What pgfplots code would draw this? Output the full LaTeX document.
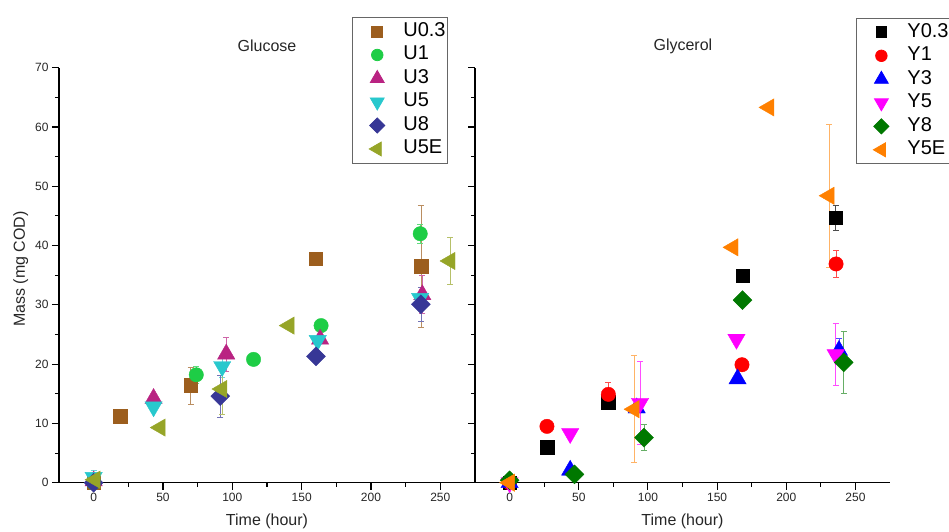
\documentclass[border=0pt]{standalone}
\usepackage{fontspec}
\setmainfont{Liberation Sans}
\usepackage{pgfplots}
\pgfplotsset{compat=1.18}

\definecolor{cBrown}{RGB}{156,94,30}
\definecolor{cGreen}{RGB}{30,205,70}
\definecolor{cWine}{RGB}{185,35,130}
\definecolor{cCyan}{RGB}{40,200,205}
\definecolor{cNavy}{RGB}{55,55,150}
\definecolor{cOlive}{RGB}{150,165,40}
\definecolor{cDkGreen}{RGB}{0,120,0}
\definecolor{cOrange}{RGB}{255,128,0}
\definecolor{cRed}{RGB}{255,0,0}
\definecolor{cBlue}{RGB}{0,0,255}
\definecolor{cMag}{RGB}{255,0,255}

\pgfplotsset{
  panel/.style={
    scale only axis, height=415pt,
    xmin=-25, xmax=275, ymin=0, ymax=70,
    xtick={0,50,...,250}, ytick={0,10,...,70},
    minor x tick num=1, minor y tick num=1,
    axis x line*=bottom, axis y line*=left,
    axis line style={-, line width=1.3pt},
    tick align=outside,
    major tick length=7pt, minor tick length=4pt,
    every tick/.style={black, line width=1.1pt},
    tick label style={font=\fontsize{12}{14}\selectfont, text=black!85},
    /pgf/number format/assume math mode=true,
    clip=false,
    title style={font=\fontsize{16}{19}\selectfont, text=black!85, anchor=center},
    label style={font=\fontsize{16}{19}\selectfont, text=black!85},
    xlabel style={at={(axis description cs:0.5,-0.092)}, anchor=center},
    legend style={draw=black!60, line width=0.8pt, fill=white,
      font=\fontsize{20}{23}\selectfont, anchor=north west,
      inner xsep=2pt, inner ysep=5pt, column sep=18.5pt, row sep=5.5pt,
      nodes={inner sep=0pt, text height=14pt, text depth=4pt}},
    legend cell align=left,
    legend image code/.code={\path[draw=none, fill=none] (0pt,0pt) (26pt,0pt);
      \draw[##1, /tikz/every mark/.append style={scale=0.8}]
        plot coordinates {(23pt,0pt)};},
  },
  ebar/.style={forget plot, only marks, mark=none, #1,
    error bars/.cd, y dir=both, y explicit,
    error bar style={#1, line width=0.7pt},
    error mark options={rotate=90, #1, mark size=3pt, line width=0.7pt}},
}

\begin{document}
\begin{tikzpicture}[x=1pt,y=1pt]
\useasboundingbox (0,0) rectangle (949,531);

% ---------------- Glucose ----------------
\begin{axis}[panel, width=416pt,
  at={(59pt,48.3pt)}, anchor=south west,
  title={Glucose}, title style={at={(axis description cs:0.5,1.038)}},
  xlabel={Time (hour)},
  ylabel={Mass (mg COD)},
  ylabel style={at={(axis description cs:-0.092,0.515)}, anchor=center, rotate=0},
  legend style={at={(axis description cs:0.704,1.122)}},
]
% error bars
\addplot[ebar=cBrown!70] coordinates {(70,16.4) +- (0,3.1) (236,36.5) +- (0,10.3)};
\addplot[ebar=cGreen!70] coordinates {(74,18.2) +- (0,1.5) (235.5,42) +- (0,1.6)};
\addplot[ebar=cWine!70] coordinates {(95.6,21.7) +- (0,2.9) (237,31.7) +- (0,3.2)};
\addplot[ebar=cCyan!70] coordinates {(0,0.9) +- (0,1.2) (92.7,19.6) +- (0,1.8)};
\addplot[ebar=cNavy!70] coordinates {(91.3,14.6) +- (0,3.5) (236,30.1) +- (0,2.8)};
\addplot[ebar=cOlive!70] coordinates {(92.5,15.8) +- (0,4.2) (257,37.4) +- (0,4.0)};
% marks
\addplot[only marks, mark=square*, mark size=6.8pt, color=cBrown]
  coordinates {(0,0) (19.2,11.2) (70,16.4) (160,37.8) (236,36.5)};
\addlegendentry{U0.3}
\addplot[only marks, mark=*, mark size=7.2pt, color=cGreen]
  coordinates {(0,0) (74,18.2) (115.3,20.8) (164,26.5) (235.5,42)};
\addlegendentry{U1}
\addplot[only marks, mark=triangle*, mark size=10pt, color=cWine]
  coordinates {(0,0.3) (43.2,14.2) (95.6,21.7) (163.3,24.2) (237,31.7)};
\addlegendentry{U3}
\addplot[only marks, mark=triangle*, mark size=10pt, mark options={rotate=180}, color=cCyan]
  coordinates {(0,0.9) (43.2,12.8) (92.7,19.6) (161.6,24.0) (235.4,31.1)};
\addlegendentry{U5}
\addplot[only marks, mark=square*, mark size=6.7pt, mark options={rotate=45}, color=cNavy]
  coordinates {(0,0) (91.3,14.6) (160.3,21.3) (236,30.1)};
\addlegendentry{U8}
\addplot[only marks, mark=triangle*, mark size=10pt, mark options={rotate=90}, color=cOlive]
  coordinates {(1,0.5) (48,9.3) (92.5,15.8) (141,26.5) (257,37.4)};
\addlegendentry{U5E}
\end{axis}

% ---------------- Glycerol ----------------
\begin{axis}[panel, width=415pt,
  at={(475pt,48.3pt)}, anchor=south west,
  title={Glycerol}, title style={at={(axis description cs:0.501,1.038)}},
  xlabel={Time (hour)},
  yticklabels={},
  legend style={at={(axis description cs:0.918,1.12)}},
]
\addplot[ebar=black!70] coordinates {(235.7,44.7) +- (0,2.1)};
\addplot[ebar=cRed!70] coordinates {(71.4,14.9) +- (0,2.0) (236,36.9) +- (0,2.3)};
\addplot[ebar=cBlue!70] coordinates {(238.1,22.3) +- (0,2.0)};
\addplot[ebar=cMag!70] coordinates {(94.3,13.4) +- (0,7.0) (235.7,21.6) +- (0,5.2)};
\addplot[ebar=cDkGreen!60] coordinates {(97.2,7.6) +- (0,2.2) (241.5,20.3) +- (0,5.2)};
\addplot[ebar=cOrange!60] coordinates {(90,12.4) +- (0,9.0) (231,48.4) +- (0,12.1)};
\addplot[only marks, mark=square*, mark size=6.8pt, color=black]
  coordinates {(0,0) (27.4,6.0) (71.4,13.6) (168.4,34.9) (235.7,44.7)};
\addlegendentry{Y0.3}
\addplot[only marks, mark=*, mark size=7.2pt, color=cRed]
  coordinates {(0,0) (27,9.5) (71.4,14.9) (168,19.9) (236,36.9)};
\addlegendentry{Y1}
\addplot[only marks, mark=triangle*, mark size=10pt, color=cBlue]
  coordinates {(0,0) (43.8,2.1) (91.9,12.6) (164.8,17.5) (238.1,22.3)};
\addlegendentry{Y3}
\addplot[only marks, mark=triangle*, mark size=10pt, mark options={rotate=180}, color=cMag]
  coordinates {(0,0) (43.8,8.3) (94.3,13.4) (164,24.2) (235.7,21.6)};
\addlegendentry{Y5}
\addplot[only marks, mark=square*, mark size=6.7pt, mark options={rotate=45}, color=cDkGreen]
  coordinates {(0,0.4) (46.9,1.4) (97.2,7.6) (168.4,30.8) (241.5,20.3)};
\addlegendentry{Y8}
\addplot[only marks, mark=triangle*, mark size=10pt, mark options={rotate=90}, color=cOrange]
  coordinates {(0,0) (90,12.4) (161.5,39.7) (187.5,63.3) (231,48.4)};
\addlegendentry{Y5E}
\end{axis}
\end{tikzpicture}
\end{document}
